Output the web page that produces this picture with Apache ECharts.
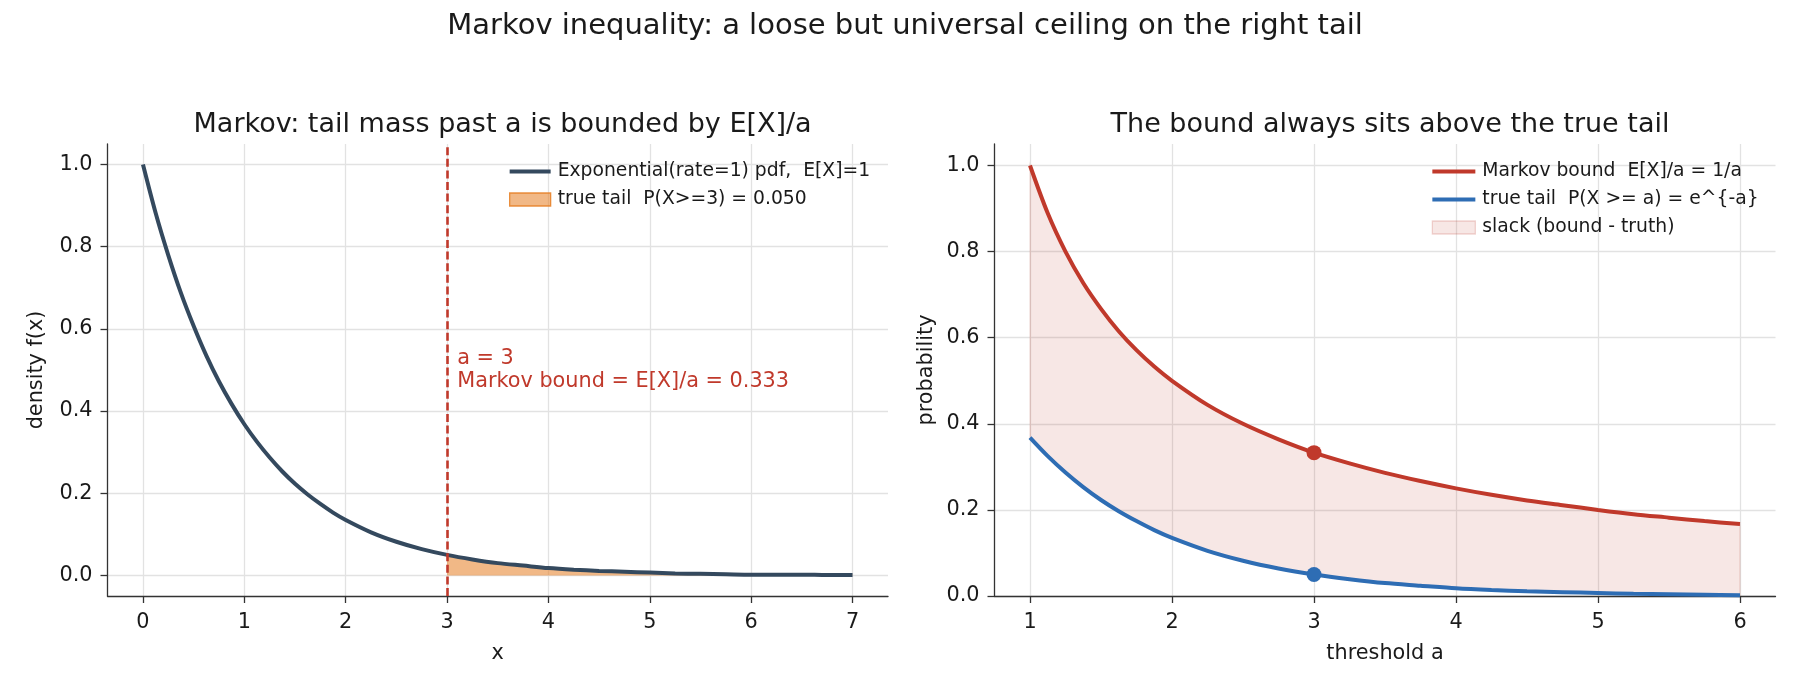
<!DOCTYPE html>
<html>
<head>
<meta charset="utf-8">
<script src="https://cdn.jsdelivr.net/npm/echarts@6/dist/echarts.min.js"></script>
<style>
  html, body { margin: 0; padding: 0; background: #fff; }
  #chart { width: 1800px; height: 690px; }
</style>
</head>
<body>
<div id="chart"></div>
<script>
// left panel: exponential pdf
const pdfX = [0, 0.125, 0.25, 0.375, 0.5, 0.625, 0.75, 0.875, 1, 1.125, 1.25, 1.375, 1.5, 1.625, 1.75, 1.875,
  2, 2.25, 2.5, 2.75, 3, 3.25, 3.5, 3.75, 4, 4.25, 4.5, 4.75, 5, 5.25, 5.5, 5.75, 6, 6.25, 6.5, 6.75, 7]
const pdfY = [1.000, 0.882, 0.779, 0.687, 0.607, 0.535, 0.472, 0.417, 0.368, 0.325, 0.287, 0.253, 0.223, 0.197,
  0.174, 0.153, 0.135, 0.105, 0.082, 0.064, 0.050, 0.039, 0.030, 0.024, 0.018, 0.014, 0.011, 0.009, 0.007,
  0.005, 0.004, 0.003, 0.002, 0.002, 0.002, 0.001, 0.001]
const cutoffA = 3

// right panel: bound vs true tail per threshold
const thresholds = [1, 1.125, 1.25, 1.375, 1.5, 1.625, 1.75, 1.875, 2, 2.25, 2.5, 2.75, 3, 3.25, 3.5, 3.75, 4,
  4.25, 4.5, 4.75, 5, 5.25, 5.5, 5.75, 6]
const markovBound = [1.000, 0.889, 0.800, 0.727, 0.667, 0.615, 0.571, 0.533, 0.500, 0.444, 0.400, 0.364, 0.333,
  0.308, 0.286, 0.267, 0.250, 0.235, 0.222, 0.211, 0.200, 0.190, 0.182, 0.174, 0.167]
const trueTail = [0.368, 0.325, 0.287, 0.253, 0.223, 0.197, 0.174, 0.153, 0.135, 0.105, 0.082, 0.064, 0.050,
  0.039, 0.030, 0.024, 0.018, 0.014, 0.011, 0.009, 0.007, 0.005, 0.004, 0.003, 0.002]

// tick labels
const leftXTicks = [0, 1, 2, 3, 4, 5, 6, 7]
const rightXTicks = [1, 2, 3, 4, 5, 6]
const probTicks = [0, 0.2, 0.4, 0.6, 0.8, 1.0]

const FONT = 'DejaVu Sans'
const INK = '#1a1a1a'
const SPINE = '#333333'
const GRID = '#e2e2e2'
const C_PDF = '#34495e'
const C_RED = '#c0392b'
const C_BLUE = '#2e6db4'
const LINE_ICON = 'path://M0,0 H410 V38 H0 Z'

const pdfName = 'Exponential(rate=1) pdf,  E[X]=1'
const tailName = 'true tail  P(X>=3) = 0.050'
const boundName = 'Markov bound  E[X]/a = 1/a'
const truthName = 'true tail  P(X >= a) = e^{-a}'
const slackName = 'slack (bound - truth)'

function axisX(gridIndex, min, max, ticks, name) {
  return {
    type: 'value', gridIndex, min, max, name,
    nameLocation: 'middle', nameGap: 47,
    nameTextStyle: { fontFamily: FONT, fontSize: 20.8, color: INK },
    axisLine: { onZero: false, lineStyle: { color: SPINE, width: 1.3 } },
    axisTick: { customValues: ticks, length: 7, lineStyle: { color: SPINE, width: 1.3 } },
    axisLabel: { customValues: ticks, margin: 16, fontFamily: FONT, fontSize: 20.8, color: INK },
    splitLine: { show: true, lineStyle: { color: GRID, width: 1.3 } }
  }
}

function axisY(gridIndex, min, max, name, gap) {
  return {
    type: 'value', gridIndex, min, max, name,
    nameLocation: 'middle', nameGap: gap, nameRotate: 90,
    nameTextStyle: { fontFamily: FONT, fontSize: 20.8, color: INK },
    axisLine: { show: true, onZero: false, lineStyle: { color: SPINE, width: 1.3 } },
    axisTick: { show: true, customValues: probTicks, length: 7, lineStyle: { color: SPINE, width: 1.3 } },
    axisLabel: {
      customValues: probTicks, margin: 15, fontFamily: FONT, fontSize: 20.8, color: INK,
      formatter: v => v.toFixed(1)
    },
    splitLine: { show: true, lineStyle: { color: GRID, width: 1.3 } }
  }
}

const chart = echarts.init(document.getElementById('chart'))
const aIdx = thresholds.indexOf(cutoffA)

chart.setOption({
  animation: false,
  backgroundColor: '#fff',
  textStyle: { fontFamily: FONT },
  title: [
    { text: 'Markov inequality: a loose but universal ceiling on the right tail', left: 900, top: 7, textAlign: 'center',
      textStyle: { fontFamily: FONT, fontSize: 29, fontWeight: 'normal', color: INK, lineHeight: 29 } },
    { text: 'Markov: tail mass past a is bounded by E[X]/a', left: 497.6, top: 106.5, textAlign: 'center',
      textStyle: { fontFamily: FONT, fontSize: 27, fontWeight: 'normal', color: INK, lineHeight: 27 } },
    { text: 'The bound always sits above the true tail', left: 1385, top: 106.5, textAlign: 'center',
      textStyle: { fontFamily: FONT, fontSize: 27, fontWeight: 'normal', color: INK, lineHeight: 27 } }
  ],
  legend: [
    {
      orient: 'vertical', left: 504, top: 156, itemWidth: 41, itemHeight: 13, itemGap: 7,
      textStyle: { fontFamily: FONT, fontSize: 18.75, color: INK, lineHeight: 21, padding: [0, 0, 0, 2] },
      data: [
        { name: pdfName, icon: LINE_ICON },
        { name: tailName, icon: 'rect', itemStyle: { color: 'rgba(230,126,34,0.55)', borderColor: 'rgba(230,126,34,0.85)', borderWidth: 1.3 } }
      ]
    },
    {
      orient: 'vertical', left: 1426.7, top: 156, itemWidth: 43, itemHeight: 13, itemGap: 7,
      textStyle: { fontFamily: FONT, fontSize: 18.75, color: INK, lineHeight: 21, padding: [0, 0, 0, 2] },
      data: [
        { name: boundName, icon: LINE_ICON },
        { name: truthName, icon: LINE_ICON },
        { name: slackName, icon: 'rect', itemStyle: { color: 'rgba(192,57,43,0.12)', borderColor: 'rgba(192,57,43,0.2)', borderWidth: 1.3 } }
      ]
    }
  ],
  grid: [
    { left: 107.5, right: 912, top: 144, bottom: 94 },
    { left: 994.5, right: 24.5, top: 144, bottom: 94 }
  ],
  xAxis: [
    axisX(0, -0.35, 7.35, leftXTicks, 'x'),
    axisX(1, 0.75, 6.25, rightXTicks, 'threshold a')
  ],
  yAxis: [
    axisY(0, -0.05, 1.05, 'density f(x)', 60),
    axisY(1, 0, 1.05, 'probability', 57)
  ],
  series: [
    {
      name: tailName, type: 'line', xAxisIndex: 0, yAxisIndex: 0, z: 2,
      smooth: 0.3, symbol: 'none',
      data: pdfX.map((x, i) => [x, pdfY[i]]).filter(d => d[0] >= cutoffA),
      lineStyle: { width: 1, color: 'rgba(230,126,34,0.6)' },
      itemStyle: { color: 'rgba(230,126,34,0.55)' },
      areaStyle: { color: 'rgba(230,126,34,0.55)', opacity: 1 }
    },
    {
      name: pdfName, type: 'line', xAxisIndex: 0, yAxisIndex: 0, z: 3,
      smooth: 0.3, symbol: 'none',
      data: pdfX.map((x, i) => [x, pdfY[i]]),
      lineStyle: { width: 4, color: C_PDF },
      itemStyle: { color: C_PDF },
      markLine: {
        silent: true, symbol: 'none', label: { show: false },
        lineStyle: { color: C_RED, width: 2.6, type: [8, 3.6] },
        data: [{ xAxis: cutoffA }]
      }
    },
    {
      name: 'annotation', type: 'scatter', xAxisIndex: 0, yAxisIndex: 0, z: 4, silent: true,
      symbolSize: 0,
      itemStyle: { opacity: 1 },
      data: [[cutoffA + 0.1, 0.5]],
      label: {
        show: true, position: 'inside', align: 'left', verticalAlign: 'middle', opacity: 1,
        fontFamily: FONT, fontSize: 20.8, lineHeight: 22.4, color: C_RED,
        formatter: 'a = 3\nMarkov bound = E[X]/a = 0.333'
      }
    },
    {
      name: slackName, type: 'custom', xAxisIndex: 1, yAxisIndex: 1, z: 1, silent: true,
      itemStyle: { color: 'rgba(192,57,43,0.12)' },
      data: thresholds.map((a, i) => [a, markovBound[i], trueTail[i]]),
      renderItem: (params, api) => {
        if (params.dataIndex !== 0) return null
        const top = thresholds.map((a, i) => api.coord([a, markovBound[i]]))
        const bottom = thresholds.map((a, i) => api.coord([a, trueTail[i]])).reverse()
        return {
          type: 'polygon',
          shape: { points: top.concat(bottom), smooth: 0 },
          style: { fill: 'rgba(192,57,43,0.12)', stroke: 'rgba(192,57,43,0.12)', lineWidth: 1.5 }
        }
      }
    },
    {
      name: boundName, type: 'line', xAxisIndex: 1, yAxisIndex: 1, z: 3,
      smooth: 0.3, symbol: 'none',
      data: thresholds.map((a, i) => [a, markovBound[i]]),
      lineStyle: { width: 4, color: C_RED },
      itemStyle: { color: C_RED }
    },
    {
      name: truthName, type: 'line', xAxisIndex: 1, yAxisIndex: 1, z: 3,
      smooth: 0.3, symbol: 'none',
      data: thresholds.map((a, i) => [a, trueTail[i]]),
      lineStyle: { width: 4, color: C_BLUE },
      itemStyle: { color: C_BLUE }
    },
    {
      name: 'markers', type: 'scatter', xAxisIndex: 1, yAxisIndex: 1, z: 5, silent: true,
      symbolSize: 15,
      data: [
        { value: [cutoffA, markovBound[aIdx]], itemStyle: { color: C_RED, opacity: 1 } },
        { value: [cutoffA, trueTail[aIdx]], itemStyle: { color: C_BLUE, opacity: 1 } }
      ]
    }
  ]
})
</script>
</body>
</html>
